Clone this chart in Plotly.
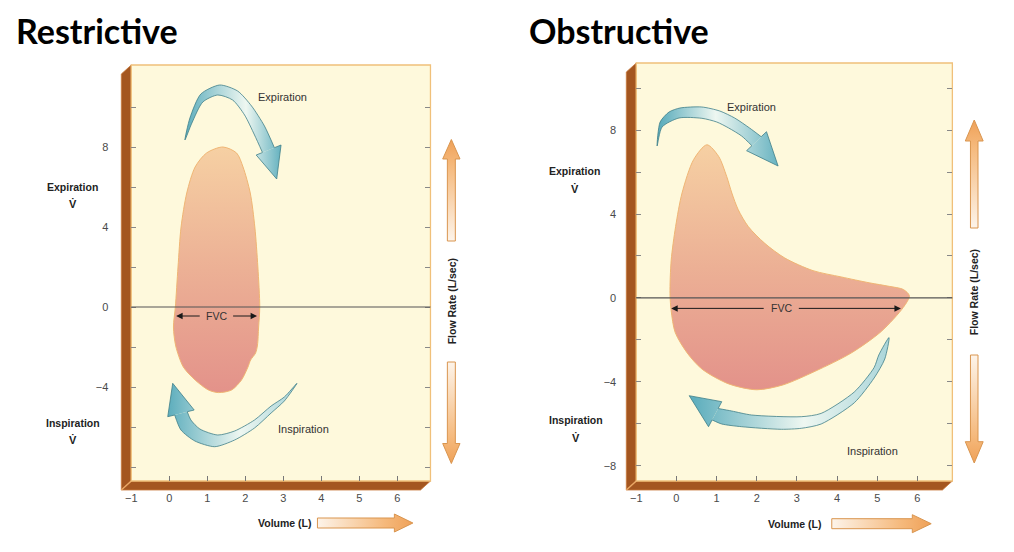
import plotly.graph_objects as go

W, H = 1014, 552

# ---------------- data ----------------
# Flow-volume loop outlines (volume in L, flow in L/sec)
restrictive_volume = [2.33, 2.38, 2.35, 2.32, 2.27, 2.14, 2.07, 1.90, 1.64, 1.29, 1.03, 0.68, 0.37,
                      0.17, 0.11, 0.16, 0.23, 0.31, 0.46, 0.68, 0.98, 1.41, 1.77, 1.94, 2.13, 2.25, 2.33]
restrictive_flow = [2.0, 0.0, -1.0, -1.9, -2.3, -2.65, -3.0, -3.65, -4.15, -4.28, -4.15, -3.65, -3.0,
                    -1.95, -1.0, 0.0, 2.0, 4.0, 5.7, 7.0, 7.7, 8.0, 7.7, 7.0, 5.7, 4.0, 2.0]

obstructive_volume = [-0.13, -0.02, 0.14, 0.43, 0.76, 1.05, 1.25, 1.38, 1.54, 1.79, 2.2, 2.7, 3.4, 4.1,
                      4.8, 5.3, 5.65, 5.8, 5.65, 5.1, 4.35, 3.45, 2.65, 2.0, 1.3, 0.64, 0.27, -0.03,
                      -0.13, -0.16, -0.13]
obstructive_flow = [1.8, 3.4, 5.0, 6.6, 7.3, 6.75, 5.8, 5.0, 4.2, 3.4, 2.6, 1.9, 1.3, 1.0,
                    0.72, 0.55, 0.4, 0.1, -0.45, -1.6, -2.63, -3.5, -4.15, -4.38, -4.1, -3.4, -2.63, -1.65,
                    -0.62, 0.2, 1.8]

# FVC span: start volume, end volume, flow level, label centre
restrictive_fvc = [0.18, 2.31, -0.45, 1.24]
obstructive_fvc = [-0.13, 5.59, -0.5, 2.61]

volume_ticks = [-1, 0, 1, 2, 3, 4, 5, 6]
volume_labels = ["\u22121", "0", "1", "2", "3", "4", "5", "6"]
flow_ticks = [-8, -6, -4, -2, 0, 2, 4, 6, 8, 10]
restrictive_flow_labels = ["", "", "\u22124", "", "0", "", "4", "", "8", ""]
obstructive_flow_labels = ["\u22128", "", "\u22124", "", "0", "", "4", "", "8", ""]

titles = ["Restrictive", "Obstructive"]

# ---------------- layout geometry (pixels) ----------------
BOX_L = (126, 65, 427, 481)   # x0, y0, x1, y1
BOX_R = (634, 63, 952, 481)
XR_L, YR_L = [-1, 6.87], [-8.7, 12.1]
XR_R, YR_R = [-1, 6.87], [-8.73, 11.2]

CREAM = "#fef9dc"
BROWN = "#a45620"
EDGE_OR = "#f0c07a"
TEAL = "#5eaebd"
TEAL_L = "#a6d3d8"
WHITE_T = "#eef7f1"
TEAL_EDGE = "#3f7f89"
OR_D = "#efa158"
OR_M = "#f5b97c"
OR_L = "#fdf4ea"
OR_EDGE = "#d9954f"
FONT = "Liberation Sans"


def dom(box):
    x0, y0, x1, y1 = box
    return [x0 / W, x1 / W], [1 - y1 / H, 1 - y0 / H]


fig = go.Figure()

# ---------- panels: flow-volume loops ----------
for vol, flow, xa, ya in [(restrictive_volume, restrictive_flow, "x2", "y2"),
                          (obstructive_volume, obstructive_flow, "x3", "y3")]:
    fig.add_trace(go.Scatter(
        x=vol, y=flow, mode="lines", xaxis=xa, yaxis=ya,
        line=dict(color="#efb574", width=1, shape="spline", smoothing=0.8),
        fill="toself",
        fillgradient=dict(type="vertical",
                          colorscale=[[0, "#e3928a"], [0.5, "#ecb095"], [1, "#f6d0a3"]]),
        hoverinfo="skip", showlegend=False))


# ---------- decorative blue curved arrows (pixel overlay) ----------
def blue_arrow(side_a, side_b, head, cs):
    xs_all = [p[0] for p in side_a + side_b + head]
    grad = dict(type="horizontal", colorscale=cs, start=min(xs_all), stop=max(xs_all))
    body = side_a[::-1] + side_b[1:]
    fig.add_trace(go.Scatter(
        x=[p[0] for p in body], y=[p[1] for p in body], mode="lines", xaxis="x", yaxis="y",
        line=dict(color=TEAL_EDGE, width=0.8, shape="spline", smoothing=0.7),
        fill="toself", fillgradient=grad, hoverinfo="skip", showlegend=False))
    hp = [side_a[-1], head[0], head[1], head[2], side_b[-1]]
    fig.add_trace(go.Scatter(
        x=[p[0] for p in hp], y=[p[1] for p in hp], mode="lines", xaxis="x", yaxis="y",
        line=dict(color=TEAL_EDGE, width=0.8),
        fill="toself", fillgradient=grad, hoverinfo="skip", showlegend=False))


# restrictive expiration
blue_arrow([(180, 140), (185, 118), (196, 94), (215, 85), (233, 91), (247, 106), (260, 126), (270, 147.7)],
           [(180, 140), (187, 123), (198, 102), (213, 95), (228, 100), (240, 115), (250, 135), (258, 152.5)],
           [(276.7, 145), (272.3, 179), (251.7, 155)],
           [[0, TEAL], [0.62, WHITE_T], [1, TEAL]])
# restrictive inspiration
blue_arrow([(292.7, 383.3), (280, 401), (266.7, 413), (250, 428), (230, 440), (210, 446.7), (190, 441),
            (176, 430), (169.7, 415)],
           [(292.7, 383.3), (280, 397), (266.7, 406), (250, 420), (230, 431), (213, 435), (195, 429),
            (186, 420), (182.3, 411.7)],
           [(162.7, 416.7), (167.7, 383.3), (189.3, 410)],
           [[0, TEAL], [0.55, WHITE_T], [1, TEAL_L]])
# obstructive expiration
blue_arrow([(655, 146), (658, 122), (667, 112), (678, 108), (700, 107), (718, 111), (733, 118), (748, 128),
            (759.7, 136.7)],
           [(655, 146), (660, 127), (677, 118), (700, 118.3), (715, 122), (727, 128), (740, 136),
            (750.3, 145.7)],
           [(765, 131.7), (776.7, 166), (745, 150.7)],
           [[0, TEAL], [0.45, WHITE_T], [1, TEAL]])
# obstructive inspiration
blue_arrow([(888.3, 337.5), (878, 355), (873.3, 367.5), (853.3, 392), (820, 413.4), (800, 416.7),
            (750, 415), (730, 411), (716.4, 408.5)],
           [(888.3, 337.5), (884, 359), (873.3, 378), (853.3, 402.8), (820, 424), (800, 428.3),
            (780, 429.3), (740, 426.7), (720, 424), (710.3, 419.9)],
           [(720, 401.7), (687.3, 395.7), (706.7, 426.7)],
           [[0, TEAL], [0.55, WHITE_T], [1, TEAL_L]])


# ---------- orange axis-direction arrows ----------
def v_arrow(cx, tail, hb, tip, sw, hw, cs):
    pts = [(cx - sw, tail), (cx - sw, hb), (cx - hw, hb), (cx, tip), (cx + hw, hb), (cx + sw, hb),
           (cx + sw, tail), (cx - sw, tail)]
    fig.add_trace(go.Scatter(
        x=[p[0] for p in pts], y=[p[1] for p in pts], mode="lines", xaxis="x", yaxis="y",
        line=dict(color=OR_EDGE, width=1), fill="toself",
        fillgradient=dict(type="vertical", colorscale=cs), hoverinfo="skip", showlegend=False))


def h_arrow(cy, tail, hb, tip, sw, hw):
    pts = [(tail, cy - sw), (hb, cy - sw), (hb, cy - hw), (tip, cy), (hb, cy + hw), (hb, cy + sw),
           (tail, cy + sw), (tail, cy - sw)]
    fig.add_trace(go.Scatter(
        x=[p[0] for p in pts], y=[p[1] for p in pts], mode="lines", xaxis="x", yaxis="y",
        line=dict(color=OR_EDGE, width=1), fill="toself",
        fillgradient=dict(type="horizontal", colorscale=[[0, OR_L], [0.7, OR_M], [1, OR_D]]),
        hoverinfo="skip", showlegend=False))


# gradient runs bottom (0) -> top (1) on screen
UP = [[0, OR_L], [0.75, OR_M], [1, OR_D]]
DOWN = [[0, OR_D], [0.25, OR_M], [1, OR_L]]
v_arrow(448, 241, 159, 139.5, 4, 8.7, UP)
v_arrow(448, 362, 443.5, 463.5, 4, 8.7, DOWN)
v_arrow(974, 228, 141, 120, 3.8, 9, UP)
v_arrow(974, 355, 441.7, 463, 3.8, 9, DOWN)
h_arrow(523, 313.3, 390.7, 409.3, 5, 9)
h_arrow(523.7, 830.7, 911.7, 930.7, 5, 9)

# ---------- shapes: cream panels, 3D brown frames, zero lines ----------
shapes = []
D_X, D_Y = 10, 9
for (x0, y0, x1, y1) in [BOX_L, BOX_R]:
    shapes.append(dict(type="path", xref="x", yref="y", layer="below",
                       path=f"M {x0},{y0} L {x0 - D_X},{y0 + D_Y} L {x0 - D_X},{y1 + D_Y} "
                            f"L {x1 - D_X},{y1 + D_Y} L {x1},{y1} L {x0},{y1} Z",
                       fillcolor=BROWN, line=dict(color="#c87a3c", width=0.8)))
    shapes.append(dict(type="line", xref="x", yref="y", layer="below",
                       x0=x0, y0=y1, x1=x0 - D_X, y1=y1 + D_Y, line=dict(color="#eaa866", width=1.5)))
    shapes.append(dict(type="rect", xref="x", yref="y", layer="below",
                       x0=x0, y0=y0, x1=x1, y1=y1, fillcolor=CREAM, line=dict(color=EDGE_OR, width=1.3)))
for xa, ya in [("x2", "y2"), ("x3", "y3")]:
    shapes.append(dict(type="line", xref=f"{xa} domain", yref=ya, layer="above",
                       x0=0, x1=1, y0=0, y1=0, line=dict(color="#555555", width=1.1)))

# ---------- annotations ----------
ann = []


def txt(x, y, text, size=11, bold=False, color="#333333", xref="x", yref="y", angle=0,
        xanchor="center", family=FONT):
    ann.append(dict(x=x, y=y, xref=xref, yref=yref, text=f"<b>{text}</b>" if bold else text,
                    showarrow=False, textangle=angle, xanchor=xanchor, yanchor="middle",
                    font=dict(family=family, size=size, color=color)))


txt(8, 30, titles[0], size=34, bold=True, color="#000000", xanchor="left", family="Lato")
txt(524, 30, titles[1], size=34, bold=True, color="#000000", xanchor="left", family="Lato")

txt(67, 187, "Expiration", size=10.5, bold=True, color="#222222")
txt(67, 204, "V\u0307", size=11, bold=True, color="#222222")
txt(67, 423, "Inspiration", size=10.5, bold=True, color="#222222")
txt(67, 440, "V\u0307", size=11, bold=True, color="#222222")
txt(572, 171, "Expiration", size=10.5, bold=True, color="#222222")
txt(572, 189, "V\u0307", size=11, bold=True, color="#222222")
txt(573, 420, "Inspiration", size=10.5, bold=True, color="#222222")
txt(573, 438, "V\u0307", size=11, bold=True, color="#222222")

txt(449, 301, "Flow Rate (L/sec)", size=10.5, bold=True, color="#222222", angle=-90)
txt(974, 292, "Flow Rate (L/sec)", size=10.5, bold=True, color="#222222", angle=-90)
txt(280, 523, "Volume (L)", size=10.5, bold=True, color="#222222")
txt(793, 524, "Volume (L)", size=10.5, bold=True, color="#222222")

txt(278, 97, "Expiration", size=11)
txt(299, 429, "Inspiration", size=11)
txt(750, 107, "Expiration", size=11)
txt(872, 451, "Inspiration", size=11)

GAP = 0.4
for fvc, xa, ya in [(restrictive_fvc, "x2", "y2"), (obstructive_fvc, "x3", "y3")]:
    v0, v1, f, c = fvc
    txt(c, f, "FVC", size=10.5, xref=xa, yref=ya, color="#333333")
    for tail, headx in [(c - GAP, v0), (c + GAP, v1)]:
        ann.append(dict(x=headx, y=f, ax=tail, ay=f, xref=xa, yref=ya, axref=xa, ayref=ya,
                        text="", showarrow=True, arrowhead=2, arrowsize=1.3, arrowwidth=1,
                        arrowcolor="#1a1a1a", standoff=0, startstandoff=0))

# ---------- axes ----------
tickfont = dict(family=FONT, size=11, color="#4a4a4a")


def xaxis(box, rng, anchor):
    d, _ = dom(box)
    return dict(domain=d, range=rng, anchor=anchor, tickvals=volume_ticks, ticktext=volume_labels,
                ticks="inside", ticklen=5, tickwidth=1, tickcolor="#777777", tickfont=tickfont,
                showgrid=False, zeroline=False, showline=False, fixedrange=True,
                ticklabelstandoff=9)


def yaxis(box, rng, anchor, labels, standoff):
    _, d = dom(box)
    return dict(domain=d, range=rng, anchor=anchor, tickvals=flow_ticks, ticktext=labels,
                ticks="inside", ticklen=5, tickwidth=1, tickcolor="#888888", mirror="ticks",
                tickfont=tickfont, showgrid=False, zeroline=False, showline=False, fixedrange=True,
                ticklabelstandoff=standoff)


fig.update_layout(
    width=W, height=H, margin=dict(l=0, r=0, t=0, b=0),
    paper_bgcolor="white", plot_bgcolor="rgba(0,0,0,0)", showlegend=False,
    xaxis=dict(domain=[0, 1], range=[0, W], visible=False, fixedrange=True),
    yaxis=dict(domain=[0, 1], range=[H, 0], visible=False, fixedrange=True),
    xaxis2=xaxis(BOX_L, XR_L, "y2"),
    yaxis2=yaxis(BOX_L, YR_L, "x2", restrictive_flow_labels, 22),
    xaxis3=xaxis(BOX_R, XR_R, "y3"),
    yaxis3=yaxis(BOX_R, YR_R, "x3", obstructive_flow_labels, 19),
    shapes=shapes, annotations=ann,
)

fig.write_html("out.html", config={"displayModeBar": False},
               post_script="document.body.style.margin='0px';document.body.style.overflow='hidden';")
